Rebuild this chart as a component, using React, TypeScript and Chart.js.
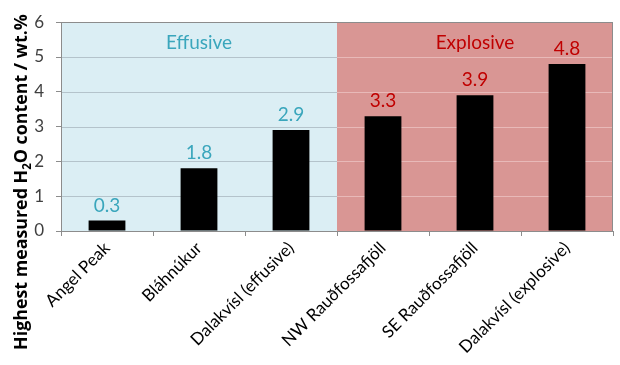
import React, { useEffect, useRef } from "react";
import { Chart, registerables } from "chart.js";

Chart.register(...registerables);

const categories = [
  "Angel Peak",
  "Bláhnúkur",
  "Dalakvísl (effusive)",
  "NW Rauðfossafjöll",
  "SE Rauðfossafjöll",
  "Dalakvísl (explosive)",
];
const waterContent = [0.3, 1.8, 2.9, 3.3, 3.9, 4.8];
const eruptionStyle = ["Effusive", "Effusive", "Effusive", "Explosive", "Explosive", "Explosive"];
const regionNames = ["Effusive", "Explosive"];
const yTicks = [0, 1, 2, 3, 4, 5, 6];
const yTitleParts = ["Highest measured H", "2", "O content / wt.%"];

const FONT = "Lato, 'Open Sans', sans-serif";
const TITLE_FONT = "'Open Sans', 'Noto Sans', sans-serif";
const styleColors: Record<string, { bg: string; grid: string; text: string }> = {
  Effusive: { bg: "#DBEEF4", grid: "#B4C3CB", text: "#3AA6BC" },
  Explosive: { bg: "#D99694", grid: "#E8B9B8", text: "#C00000" },
};

const regionPlugin = {
  id: "regions",
  beforeDatasetsDraw(chart: any) {
    const { ctx, chartArea, scales } = chart;
    const x = scales.x;
    const y = scales.y;
    const half = (x.getPixelForValue(1) - x.getPixelForValue(0)) / 2;
    regionNames.forEach((name) => {
      const idx = eruptionStyle.map((s, i) => (s === name ? i : -1)).filter((i) => i >= 0);
      const left = x.getPixelForValue(idx[0]) - half;
      const right = x.getPixelForValue(idx[idx.length - 1]) + half;
      const c = styleColors[name];
      ctx.save();
      ctx.fillStyle = c.bg;
      ctx.fillRect(left, chartArea.top, right - left, chartArea.bottom - chartArea.top);
      ctx.strokeStyle = c.grid;
      ctx.lineWidth = 1;
      yTicks.forEach((t) => {
        if (t === 0) return;
        const py = Math.round(y.getPixelForValue(t)) + 0.5;
        ctx.beginPath();
        ctx.moveTo(left, py);
        ctx.lineTo(right, py);
        ctx.stroke();
      });
      ctx.fillStyle = c.text;
      ctx.font = `19px ${FONT}`;
      ctx.textAlign = "center";
      ctx.textBaseline = "middle";
      ctx.fillText(name, (left + right) / 2, chartArea.top + 21);
      ctx.restore();
    });
    ctx.save();
    ctx.strokeStyle = "#8C8C8C";
    ctx.lineWidth = 1;
    ctx.strokeRect(
      Math.round(chartArea.left) + 0.5,
      Math.round(chartArea.top) + 0.5,
      Math.round(chartArea.right - chartArea.left) - 1,
      Math.round(chartArea.bottom - chartArea.top)
    );
    ctx.restore();
  },
  afterDatasetsDraw(chart: any) {
    const { ctx } = chart;
    const meta = chart.getDatasetMeta(0);
    ctx.save();
    ctx.font = `19px ${FONT}`;
    ctx.textAlign = "center";
    ctx.textBaseline = "alphabetic";
    meta.data.forEach((bar: any, i: number) => {
      ctx.fillStyle = styleColors[eruptionStyle[i]].text;
      ctx.fillText(waterContent[i].toFixed(1), bar.x, bar.y - 9);
    });
    ctx.restore();
  },
  afterDraw(chart: any) {
    const { ctx } = chart;
    const targetLen = 336;
    ctx.save();
    const measure = (size: number) => {
      ctx.font = `700 ${size}px ${TITLE_FONT}`;
      const a = ctx.measureText(yTitleParts[0]).width + ctx.measureText(yTitleParts[2]).width;
      ctx.font = `700 ${size * 0.65}px ${TITLE_FONT}`;
      return a + ctx.measureText(yTitleParts[1]).width;
    };
    const size = Math.min(19, (18 * targetLen) / measure(18));
    const big = `700 ${size}px ${TITLE_FONT}`;
    const small = `700 ${size * 0.65}px ${TITLE_FONT}`;
    ctx.font = big;
    const w0 = ctx.measureText(yTitleParts[0]).width;
    const w2 = ctx.measureText(yTitleParts[2]).width;
    ctx.font = small;
    const w1 = ctx.measureText(yTitleParts[1]).width;
    const total = w0 + w1 + w2;
    ctx.translate(27, 182);
    ctx.rotate(-Math.PI / 2);
    ctx.fillStyle = "#000";
    ctx.textBaseline = "alphabetic";
    ctx.textAlign = "left";
    let cx = -total / 2;
    ctx.font = big;
    ctx.fillText(yTitleParts[0], cx, 0);
    cx += w0;
    ctx.font = small;
    ctx.fillText(yTitleParts[1], cx, 4);
    cx += w1;
    ctx.font = big;
    ctx.fillText(yTitleParts[2], cx, 0);
    ctx.restore();
  },
};

export default function App() {
  const ref = useRef<HTMLCanvasElement>(null);
  useEffect(() => {
    document.body.style.margin = "0";
    const chart = new Chart(ref.current!, {
      type: "bar",
      data: {
        labels: categories,
        datasets: [
          {
            data: waterContent,
            backgroundColor: "#000000",
            barPercentage: 0.8,
            categoryPercentage: 0.5,
          },
        ],
      },
      plugins: [regionPlugin],
      options: {
        responsive: false,
        animation: false,
        devicePixelRatio: 1,
        layout: { padding: { top: 9, right: 7, left: 0, bottom: 0 } },
        plugins: { legend: { display: false }, tooltip: { enabled: false } },
        scales: {
          x: {
            grid: {
              drawOnChartArea: false,
              drawTicks: true,
              tickLength: 5,
              color: "#8C8C8C",
              offset: true,
            },
            border: { display: true, color: "#8C8C8C" },
            ticks: {
              minRotation: 45,
              maxRotation: 45,
              color: "#000",
              font: { family: FONT, size: 17 },
              padding: 2,
            },
            afterFit: (s: any) => {
              s.height = 134;
            },
          },
          y: {
            min: 0,
            max: 6,
            ticks: {
              stepSize: 1,
              color: "#404040",
              font: { family: FONT, size: 17 },
              padding: 12,
            },
            grid: {
              drawOnChartArea: false,
              drawTicks: true,
              tickLength: 5,
              color: "#8C8C8C",
            },
            border: { display: true, color: "#8C8C8C" },
            title: { display: false },
            afterFit: (s: any) => {
              s.width = 61;
            },
          },
        },
      },
    });
    return () => chart.destroy();
  }, []);
  return <canvas ref={ref} width={620} height={365} />;
}
